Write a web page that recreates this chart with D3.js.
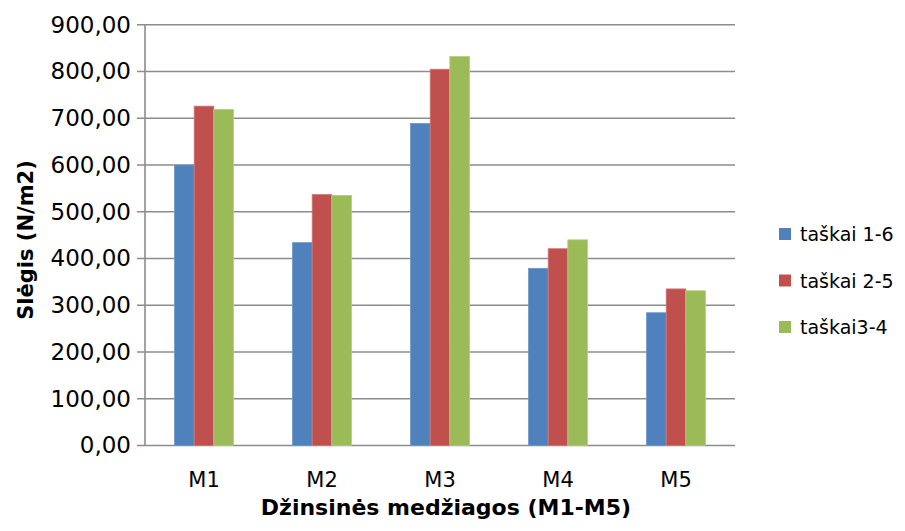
<!DOCTYPE html>
<html>
<head>
<meta charset="utf-8">
<script src="https://cdn.jsdelivr.net/npm/d3@7/dist/d3.min.js"></script>
<style>
  html, body { margin: 0; padding: 0; background: #fff; }
  svg { display: block; }
  text { font-family: "DejaVu Sans", "Open Sans", sans-serif; fill: #000; }
</style>
</head>
<body>
<svg id="chart" width="905" height="531"></svg>
<script>
// Fabric samples and measured pressure per point pair
const categories = ["M1", "M2", "M3", "M4", "M5"];
const seriesNames = ["taškai 1-6", "taškai 2-5", "taškai3-4"];
const points16 = [600, 434, 689, 379, 284];
const points25 = [726, 537, 805, 421, 335];
const points34 = [719, 535, 832, 440, 331];
const yTicks = [0, 100, 200, 300, 400, 500, 600, 700, 800, 900];
const colors = ["#4f81bd", "#c0504d", "#9bbb59"];
const borders = ["#6f97c9", "#cf7a78", "#b3cd80"];

const series = [points16, points25, points34];

const svg = d3.select("#chart");
const plotLeft = 145, plotRight = 735, plotTop = 24.8, plotBottom = 445.5;
const labelFont = "\"DejaVu Sans\", sans-serif";

const x = d3.scaleBand().domain(categories).range([plotLeft, plotRight]).padding(0);
const y = d3.scaleLinear().domain([0, 900]).range([plotBottom, plotTop]);
// Gap between groups equals one group width: bars fill the middle half of each band
const inner = d3.scaleBand().domain(d3.range(series.length))
  .range([x.bandwidth() / 4, x.bandwidth() * 3 / 4]).padding(0);

const fmt = v => d3.format(".2f")(v).replace(".", ",");

// Gridlines
svg.append("g")
  .selectAll("line")
  .data(yTicks)
  .join("line")
  .attr("x1", plotLeft - 8)
  .attr("x2", plotRight)
  .attr("y1", d => y(d))
  .attr("y2", d => y(d))
  .attr("stroke", "#8c8c8c")
  .attr("stroke-width", 1.6);

// Bars
categories.forEach((c, ci) => {
  series.forEach((s, si) => {
    svg.append("rect")
      .attr("x", x(c) + inner(si))
      .attr("y", y(s[ci]))
      .attr("width", inner.bandwidth())
      .attr("height", y(0) - y(s[ci]))
      .attr("fill", colors[si])
      .attr("stroke", borders[si])
      .attr("stroke-width", 0.8);
  });
});

// Vertical axis line
svg.append("line")
  .attr("x1", plotLeft).attr("x2", plotLeft)
  .attr("y1", plotTop).attr("y2", plotBottom)
  .attr("stroke", "#8c8c8c").attr("stroke-width", 1.6);

// Y axis tick labels
const yAxis = d3.axisLeft(y).tickValues(yTicks).tickFormat(fmt).tickSize(0).tickPadding(14);
const gy = svg.append("g").attr("transform", `translate(${plotLeft},0)`).call(yAxis);
gy.select(".domain").remove();
gy.selectAll("text")
  .style("font-size", "23px")
  .style("font-family", labelFont)
  .attr("fill", "#000");

// X axis category labels
const xAxis = d3.axisBottom(x).tickSize(0).tickPadding(0);
const gx = svg.append("g").attr("transform", `translate(0,${plotBottom})`).call(xAxis);
gx.select(".domain").remove();
gx.selectAll("text")
  .attr("dy", null)
  .attr("y", 41)
  .style("font-size", "21px")
  .style("font-family", labelFont)
  .attr("fill", "#000");

// Axis titles
svg.append("text")
  .attr("x", (plotLeft + plotRight) / 2 + 6)
  .attr("y", 515)
  .attr("text-anchor", "middle")
  .style("font-size", "22px")
  .style("font-weight", "bold")
  .text("Džinsinės medžiagos (M1-M5)");

svg.append("text")
  .attr("transform", "translate(33,240) rotate(-90)")
  .attr("text-anchor", "middle")
  .style("font-size", "21px")
  .style("font-weight", "bold")
  .text("Slėgis (N/m2)");

// Legend
const legend = svg.append("g");
seriesNames.forEach((name, i) => {
  const ly = 234 + i * 46.5;
  legend.append("rect")
    .attr("x", 779).attr("y", ly - 6)
    .attr("width", 12).attr("height", 12)
    .attr("fill", colors[i]);
  legend.append("text")
    .attr("x", 800).attr("y", ly)
    .attr("dominant-baseline", "central")
    .style("font-size", "19px")
    .text(name);
});
</script>
</body>
</html>
